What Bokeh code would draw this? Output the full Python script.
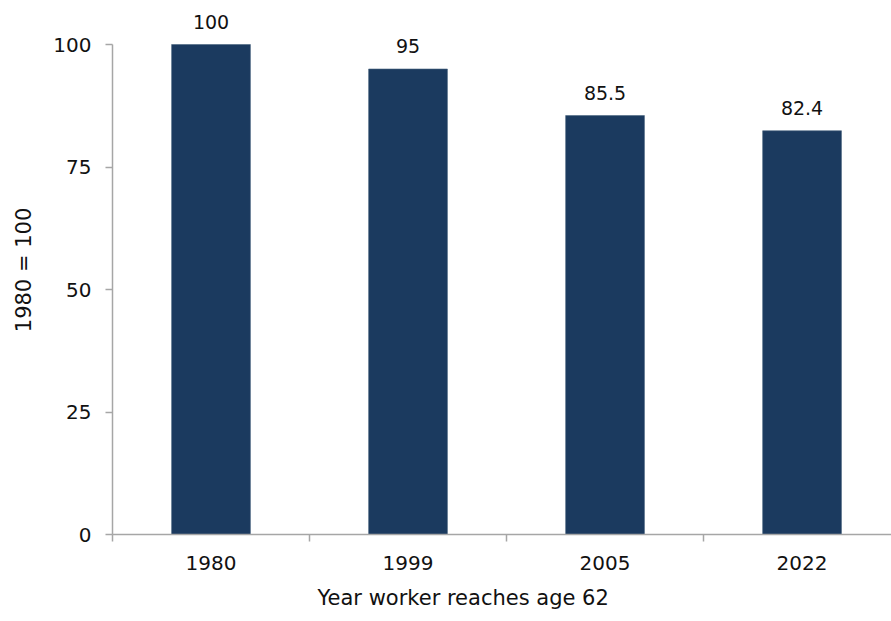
from bokeh.plotting import figure
from bokeh.models import Range1d, FixedTicker, LabelSet, ColumnDataSource, Title
from bokeh.core.properties import value
from bokeh.embed import file_html
from bokeh.resources import INLINE

categories = ["1980", "1999", "2005", "2022"]
values = [100, 95, 85.5, 82.4]
value_labels = ["100", "95", "85.5", "82.4"]
y_ticks = [0, 25, 50, 75, 100]
x_title = "Year worker reaches age 62"
y_title = "1980 = 100"

FONT = "DejaVu Sans"
BAR = "#1B3A5F"
AXIS = "#A6A6A6"
TXT = "#111111"

n = len(categories)
centers = [i + 0.5 for i in range(n)]
boundaries = list(range(n + 1))

src = ColumnDataSource(dict(x=centers, top=values, lab=value_labels))

p = figure(width=891, height=621, output_backend="svg", toolbar_location=None,
           x_range=Range1d(0, 3.954), y_range=Range1d(0, 107.96),
           min_border_left=112, min_border_right=0, min_border_top=5, min_border_bottom=87)
p.outline_line_color = None
p.grid.visible = False
p.background_fill_color = "white"
p.border_fill_color = "white"

p.vbar(x="x", top="top", width=0.4, source=src, fill_color=BAR,
       line_color="#4A6580", line_width=0.6)

labels = LabelSet(x="x", y="top", text="lab", source=src, text_align="center",
                  text_baseline="alphabetic", y_offset=16, text_font=value(FONT),
                  text_font_size="19px", text_color=TXT)
p.add_layout(labels)

# x axis
xa = p.xaxis[0]
xa.ticker = FixedTicker(ticks=centers, minor_ticks=boundaries)
xa.major_label_overrides = {c: lab for c, lab in zip(centers, categories)}
xa.major_tick_out = 0
xa.major_tick_in = 0
xa.minor_tick_out = 7
xa.minor_tick_in = 0
xa.minor_tick_line_color = AXIS
xa.axis_line_color = AXIS
xa.axis_line_width = 1.5
xa.minor_tick_line_width = 1.5
xa.major_label_text_font = FONT
xa.major_label_text_font_size = "20px"
xa.major_label_text_color = TXT
xa.major_label_standoff = 14

# y axis
ya = p.yaxis[0]
ya.ticker = FixedTicker(ticks=y_ticks, minor_ticks=[])
ya.bounds = (0, 100)
ya.major_tick_out = 7
ya.major_tick_in = 0
ya.major_tick_line_color = AXIS
ya.major_tick_line_width = 1.5
ya.axis_line_color = AXIS
ya.axis_line_width = 1.5
ya.major_label_text_font = FONT
ya.major_label_text_font_size = "20px"
ya.major_label_text_color = TXT
ya.major_label_standoff = 14
ya.axis_label = y_title
ya.axis_label_text_font = FONT
ya.axis_label_text_font_size = "21px"
ya.axis_label_text_font_style = "normal"
ya.axis_label_text_color = TXT
ya.axis_label_standoff = 14

t = Title(text=x_title, align="left", offset=205,
          text_font=FONT, text_font_size="21px", text_font_style="normal",
          text_color=TXT, standoff=22)
p.add_layout(t, "below")

open("out.html", "w").write(file_html(p, INLINE))
